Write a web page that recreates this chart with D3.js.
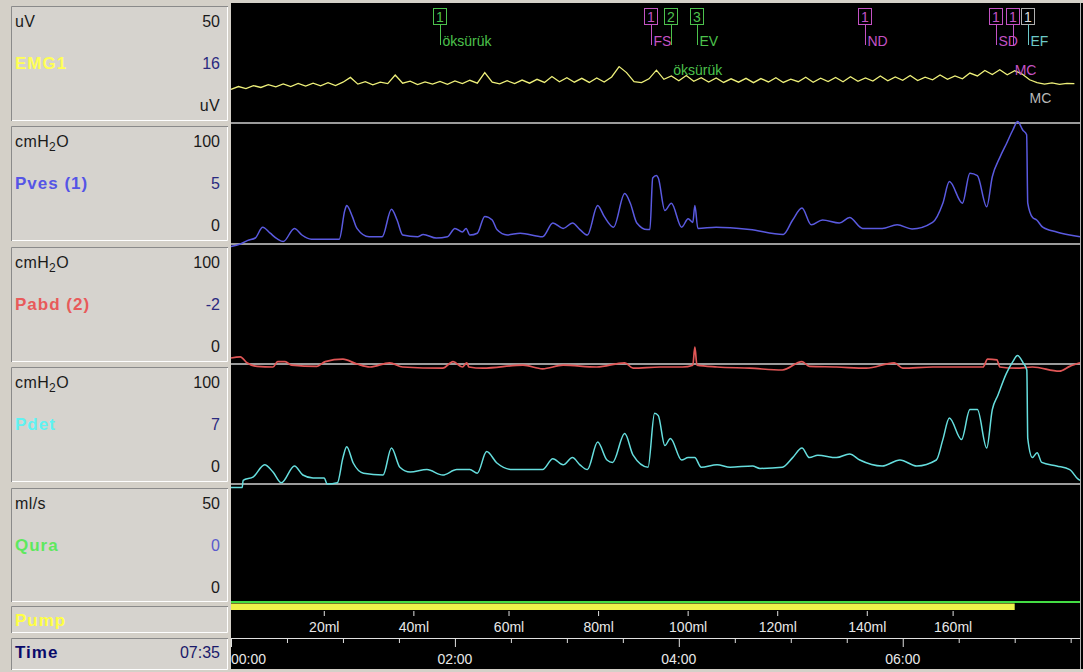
<!DOCTYPE html>
<html><head><meta charset="utf-8">
<script src="https://cdn.jsdelivr.net/npm/d3@7"></script>
<style>body{margin:0;background:#d4d0c8;} svg{display:block;font-family:"Liberation Sans",Arial,sans-serif;}</style>
</head><body><svg id="c" width="1083" height="672"></svg>
<script>
// ---------------- DATA ----------------
const totalSeconds = 455;
const totalLabel = "07:35";
const timeTickSeconds = [0,30,60,90,120,150,180,210,240,270,300,330,360,390,420,450];
const timeLabelSeconds = [0,120,240,360];
const timeLabels = ["00:00","02:00","04:00","06:00"];
const volumeLabels = ["20ml","40ml","60ml","80ml","100ml","120ml","140ml","160ml"];
const volumeTickSeconds = [50,98,149,197,245,293,341,387];
const pumpOn = [0, 420];

const channelNames = ["EMG1","Pves (1)","Pabd (2)","Pdet","Qura"];
const channelUnits = ["uV","cmH2O","cmH2O","cmH2O","ml/s"];
const channelMax = [50,100,100,100,50];
const channelMin = [0,0,0,0,0];
const channelCurrent = ["16","5","-2","7","0"];

const emgSampleSeconds = 4;
const emgValues = [14,15.2,14.3,15.6,14.8,16,15.1,16.3,15.2,16.5,15.4,16.6,15.5,16.8,15.6,17,
  19,16.2,17.2,15.9,17,16.4,20,16.6,17.4,16,17.1,16.2,17.3,16.1,17.5,16.4,17.8,16.6,
  21,17,16.3,17.6,16.4,17.9,16.6,18.2,16.9,19.4,17.2,18.9,17,18.6,16.9,18.8,17.1,19.2,23.5,21,17.2,16.8,18.4,22,18.2,19.6,17.6,19.8,17.4,18.9,17.1,18.8,16.9,18.4,17,18.6,16.8,18.5,17.1,18.9,16.9,18.3,17.2,19.1,17,18.7,17.3,19,17.2,19.3,17.4,18.8,17.5,19.6,17.6,19.2,17.8,19.8,17.7,19.1,18,20,18.2,19.6,18.4,20.8,19.6,21.9,20.2,22.2,20.1,21.8,20.4,18,16.8,16.2,16.7,16.1,16.5,16.4];

const pvesTimes = [0,5,9,13,17,21,25,28,34,38,43,58,61,62,65,67.5,74,81,86,89,92,100,103,110,116,120,124,126,128,132,136,140,142.5,148,155,167,172.5,178,183,187,191,196.5,200,205,211,214,217.5,223,224.5,226,228,229,232.5,236,241.5,245,247.5,248.6,250.2,260,278,296,301,306,311,317,326,331.5,338.5,349,357,365,376,381.5,385,392,396,400,405,408,412,415.7,419,421.6,424.3,426.4,427,429.6,431.8,435,442.5,449.5,455];
const pvesValues = [-2,0,3,5,14,9,4,2,13,7.5,4,4,28,32,23,13,6,6,29,20,7.5,6,8,5,6,13,10,13,7.5,9,23,20,12,7.5,9,6,17.5,13,17.5,12,7.5,32,23,14,42,34,17.5,12,12,55,57,55,28,34,14,21,18,32,13,14,12,8,20,30,16,20,17.5,22,13,13,16,12.5,18,34,52,34,59,57,31,56,72,84,95,102,95,91,34,22,20,14,10,7.5,6];

const pabdTimes = [0,5,8.5,14,22.5,25,29,32.5,46,50.5,60,67.5,74.5,85,92,113.5,119,124,126.4,127.5,135,156.5,167,178,196,211,215.5,230,242,247.5,248.6,249.7,260.5,278,295.5,306,310,324.5,340.5,355.5,360,376,403,405.5,410.5,412,421,429.5,444,449.5,455];
const pabdValues = [5,6,1,-2,-2.5,2,2,-1,-2,2,4,0,-2.5,1,-2.5,-3.5,2,-2.5,1,-2.5,-3.5,-1,-4,-1,-2.5,1,-3.5,-2.5,-2.5,-1,14,-1,-2.5,-3.5,-5,2,-2,-2.5,-3.5,1,-3.5,-2.5,-2.5,4,3.5,-2.5,-3.5,-2.5,-6,-2,1];

const pdetTimes = [0,6,6.5,12,18,22.5,27,34,38.5,44,50,51.5,57,60,62,65.5,71,81.5,86,90.5,96,105,113.5,121,128,132,137,142.5,151,167,172.5,178,183,187,191,196.5,201.5,204.5,211,215.5,223.5,227,229,232.5,235.5,241.5,245,248.5,252,260.5,267.5,279.5,283.5,295.5,301,306,310,314.5,324.5,331.5,337,349,358.5,367.5,378,381.5,385,391.5,396,400,405,408,411,415.5,419,421.5,424.5,426.5,427,429.5,432,434.5,442.5,449.5,454,455];
const pdetValues = [-3,-3,3,6,16,10,1,15,7.5,5,5,0,1,22,31,17.5,9,7.5,30,14,10,12,7.5,12,12,9,27,17.5,12,12,21,16,22,16,12,35,20,18,42,24,14,59,57,32,38,20,22,22,14,16,14,15,13,14,22,30,22,24,22,25,20,15,20,15,20,37,55,37,62,62,30,62,74,92,102,107,101,95,38,22,26,18,15,12,4,3];

const quraTimes = [0,455];
const quraValues = [0,0];

const eventTimes = [112,225,236,250,340,410,419,427];
const eventNumbers = ["1","1","2","3","1","1","1","1"];
const eventLabels = ["öksürük","FS","","EV","ND","SD","","EF"];
const eventKinds = ["cough","fill","cough","cough","nd","sd","sd","ef"];

const noteTimes = [237,420,428];
const noteTexts = ["öksürük","MC","MC"];
const noteKinds = ["cough","sd","gray"];

// ---------------- DRAW ----------------
const svg = d3.select("#c");
const W = 1083, H = 672;
const plotL = 231, plotR = 1080;
const x = d3.scaleLinear().domain([0,totalSeconds]).range([plotL,plotR]);

const kindColor = {cough:"#4cc24c", fill:"#c452c4", nd:"#c452c4", sd:"#c452c4", ef:"#6cc8c8", gray:"#b8b8b8"};
const boxColor = {cough:"#4cc24c", fill:"#c452c4", nd:"#c452c4", sd:"#c452c4", ef:"#b0b0b0", gray:"#b8b8b8"};

svg.append("rect").attr("width",W).attr("height",H).attr("fill","#d4d0c8");
svg.append("rect").attr("x",plotL).attr("y",3).attr("width",W-plotL).attr("height",666).attr("fill","#000");
svg.append("line").attr("x1",plotR+0.5).attr("x2",plotR+0.5).attr("y1",3).attr("y2",669).attr("stroke","#b0b0b0").attr("stroke-width",1);

const panelBottom = [123,244,364,484,602];
const panelTop = [3,124,244,364,484];
const traceColors = ["#eef07a","#5a5ae0","#e05656","#66dede","#44dd44"];
const nameColors = ["#ffff55","#5555e6","#e85a5a","#5ff2f2","#5ee85e"];
const ys = channelNames.map((n,i)=>d3.scaleLinear().domain([channelMin[i],channelMax[i]]).range([panelBottom[i],panelTop[i]]));

[123,244,364,484].forEach(yy=>{
  svg.append("line").attr("x1",plotL).attr("x2",plotR).attr("y1",yy).attr("y2",yy)
    .attr("stroke","#cfcfcf").attr("stroke-width",1.5);
});

const boxTops = [6,126,247,367,488];
const boxBots = [121,241,362,482,602];
function box(y0,y1){
  svg.append("rect").attr("x",11).attr("y",y0).attr("width",217).attr("height",y1-y0).attr("fill","#d6d3ce");
  svg.append("path").attr("d",`M11.5,${y1}V${y0+0.5}H228`).attr("fill","none").attr("stroke","#8a8a8a");
  svg.append("path").attr("d",`M12,${y1-0.5}H227.5V${y0+1}`).attr("fill","none").attr("stroke","#ffffff");
}
function unitText(g,xx,yy,u,anchor){
  const t = g.append("text").attr("x",xx).attr("y",yy).attr("font-size",16).attr("fill","#1a1a1a").attr("text-anchor",anchor||"start").attr("letter-spacing",0.4);
  if(u.indexOf("H2O")>=0){
    t.append("tspan").text("cmH");
    t.append("tspan").text("2").attr("font-size",12).attr("dy",4);
    t.append("tspan").text("O").attr("dy",-4);
  } else t.text(u);
}
channelNames.forEach((n,i)=>{
  box(boxTops[i],boxBots[i]);
  const t0 = boxTops[i];
  unitText(svg,15,t0+21,channelUnits[i]);
  svg.append("text").attr("x",220).attr("y",t0+21).attr("text-anchor","end").attr("font-size",16).attr("fill","#1a1a1a").text(channelMax[i]);
  svg.append("text").attr("x",15).attr("y",t0+63).attr("font-size",17).attr("font-weight","bold").attr("letter-spacing",1).attr("fill",nameColors[i]).text(n);
  svg.append("text").attr("x",220).attr("y",t0+63).attr("text-anchor","end").attr("font-size",16).attr("fill",i===4?"#5a5acc":"#2a2a80").text(channelCurrent[i]);
  if(i===0){
    unitText(svg,220,t0+105,channelUnits[i],"end");
  } else {
    svg.append("text").attr("x",220).attr("y",t0+105).attr("text-anchor","end").attr("font-size",16).attr("fill","#1a1a1a").text(channelMin[i]);
  }
});
box(606,633);
svg.append("text").attr("x",15).attr("y",626).attr("font-size",17).attr("font-weight","bold").attr("letter-spacing",1).attr("fill","#ffff44").text("Pump");
box(638,670);
svg.append("text").attr("x",15).attr("y",658).attr("font-size",17).attr("font-weight","bold").attr("letter-spacing",1).attr("fill","#0a0a6a").text("Time");
svg.append("text").attr("x",220).attr("y",658).attr("text-anchor","end").attr("font-size",16).attr("fill","#1a1a6a").text(totalLabel);

function trace(times, vals, i, w, curve){
  const line = d3.line().x((d,k)=>x(times[k])).y(d=>ys[i](d)).curve(curve||d3.curveLinear);
  svg.append("path").attr("d",line(vals)).attr("fill","none").attr("stroke",traceColors[i]).attr("stroke-width",w||1.4).attr("stroke-linejoin","miter");
}
trace(emgValues.map((v,k)=>k*emgSampleSeconds), emgValues, 0, 1.3);
trace(quraTimes, quraValues, 4, 2);
trace(pvesTimes, pvesValues, 1, 1.5, d3.curveMonotoneX);
trace(pabdTimes, pabdValues, 2, 1.7, d3.curveMonotoneX);
trace(pdetTimes, pdetValues, 3, 1.5, d3.curveMonotoneX);

svg.append("rect").attr("x",x(pumpOn[0])).attr("y",603.5).attr("width",x(pumpOn[1])-x(pumpOn[0])).attr("height",6.5).attr("fill","#eef24a");

const vg = svg.append("g");
volumeTickSeconds.forEach((s,k)=>{
  vg.append("line").attr("x1",x(s)).attr("x2",x(s)).attr("y1",611).attr("y2",616).attr("stroke","#e0e0e0");
  vg.append("text").attr("x",x(s)).attr("y",632).attr("text-anchor","middle").attr("font-size",14).attr("fill","#e8e8e8").text(volumeLabels[k]);
});

const tAxis = d3.axisBottom(x).tickValues(timeTickSeconds).tickSize(5).tickFormat("");
const tg = svg.append("g").attr("transform","translate(0,638)").call(tAxis);
tg.select(".domain").attr("stroke","#e0e0e0").attr("d",`M${plotL},0.5H${plotR}`);
tg.selectAll(".tick line").attr("stroke","#e0e0e0").attr("y2",d=>timeLabelSeconds.includes(d)?9:5);
timeLabelSeconds.forEach((s,k)=>{
  svg.append("text").attr("x",x(s)).attr("y",664).attr("text-anchor",k===0?"start":"middle")
    .attr("font-size",14).attr("fill","#e8e8e8").text(timeLabels[k]);
});

eventTimes.forEach((s,k)=>{
  const cx = Math.round(x(s))+0.5;
  const c = kindColor[eventKinds[k]], bc = boxColor[eventKinds[k]];
  svg.append("rect").attr("x",cx-7).attr("y",8.5).attr("width",13).attr("height",16).attr("fill","none").attr("stroke",bc);
  svg.append("text").attr("x",cx-0.5).attr("y",22).attr("text-anchor","middle").attr("font-size",14).attr("fill",eventKinds[k]==="ef"?"#dddddd":bc).text(eventNumbers[k]);
  svg.append("line").attr("x1",cx).attr("x2",cx).attr("y1",24.5).attr("y2",45).attr("stroke",c);
  if(eventLabels[k]) svg.append("text").attr("x",cx+2).attr("y",46).attr("font-size",14).attr("fill",c).text(eventLabels[k]);
});
const noteY = [75,75,103];
noteTimes.forEach((s,k)=>{
  svg.append("text").attr("x",x(s)).attr("y",noteY[k]).attr("font-size",14).attr("fill",kindColor[noteKinds[k]]).text(noteTexts[k]);
});
</script></body></html>
